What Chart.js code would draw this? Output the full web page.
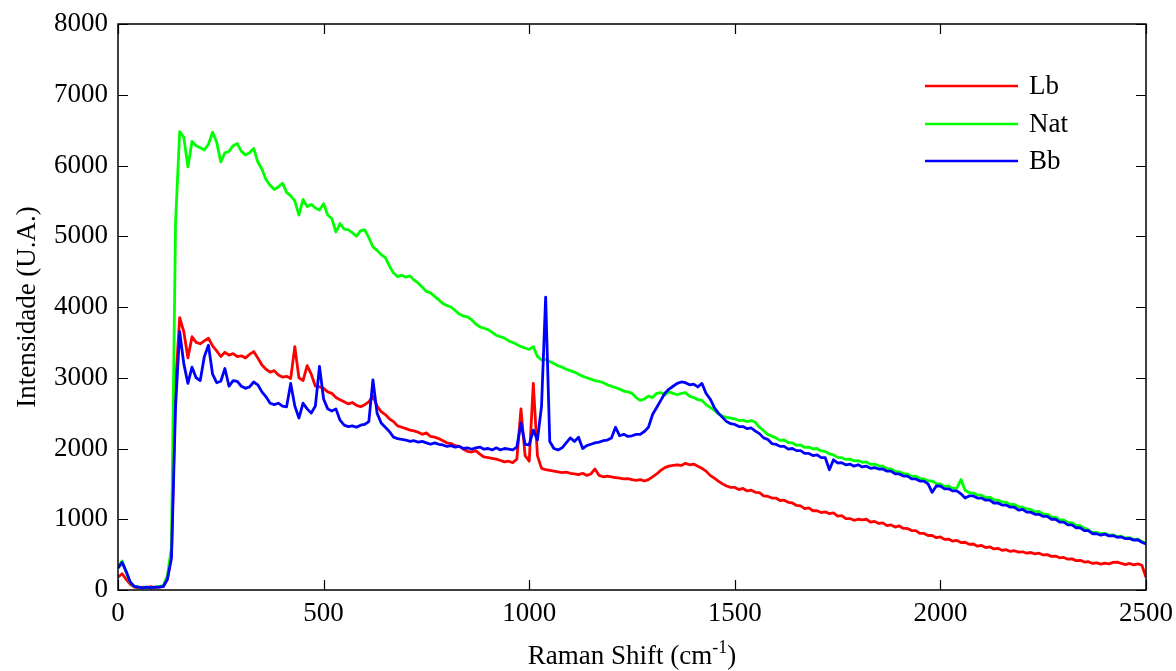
<!DOCTYPE html>
<html>
<head>
<meta charset="utf-8">
<script src="https://cdn.jsdelivr.net/npm/chart.js@4.4.1/dist/chart.umd.min.js"></script>
<style>
html,body{margin:0;padding:0;background:#fff;}
#wrap{width:1176px;height:671px;position:relative;}
</style>
</head>
<body>
<div id="wrap"><canvas id="c" width="1176" height="671"></canvas></div>
<script>
// Raman shift axis: sampled every 10 cm-1 from 0 to 2500
const ramanShift = Array.from({length: 251}, (_, i) => i * 10);

const seriesNames = ['Lb', 'Nat', 'Bb'];

const lbValues = [
180,230,150,80,40,30,40,30,50,30,40,50,150,500,2900,3850,3650,3280,3580,3500,
3480,3520,3560,3450,3380,3300,3360,3320,3340,3300,3310,3280,3330,3370,3280,3180,3120,3080,3100,3040,
3010,3020,2990,3440,3000,2960,3170,3050,2880,2870,2850,2800,2780,2720,2690,2660,2630,2650,2610,2590,
2620,2660,2740,2600,2520,2480,2420,2380,2320,2300,2280,2260,2250,2230,2200,2220,2170,2160,2140,2110,
2080,2070,2040,2030,1990,1960,1950,1970,1920,1880,1870,1860,1850,1830,1810,1820,1800,1850,2560,1900,
1820,2920,1900,1720,1700,1690,1680,1670,1660,1665,1650,1640,1630,1650,1620,1640,1710,1620,1600,1610,
1600,1590,1580,1570,1575,1560,1550,1560,1540,1560,1600,1640,1690,1730,1750,1760,1770,1760,1790,1770,
1780,1750,1720,1680,1620,1580,1540,1500,1470,1450,1450,1420,1435,1400,1410,1380,1375,1330,1325,1300,
1300,1265,1270,1240,1230,1195,1190,1150,1160,1120,1120,1095,1105,1080,1090,1045,1050,1010,1010,985,
1000,990,1000,960,970,940,950,910,920,890,905,870,870,840,840,800,800,770,770,740,
750,715,720,690,700,670,675,645,650,620,630,600,610,580,590,560,570,545,555,535,
540,520,530,510,520,495,500,475,480,455,460,435,440,415,420,395,400,375,385,365,
380,370,390,395,375,360,375,355,370,350,180
];

const natValues = [
330,410,250,100,50,40,30,40,30,40,50,60,200,600,5200,6480,6400,5980,6340,6280,
6250,6220,6300,6470,6330,6050,6180,6200,6280,6310,6200,6150,6180,6240,6050,5950,5800,5720,5660,5700,
5750,5620,5570,5500,5300,5520,5420,5450,5400,5370,5460,5300,5250,5060,5180,5100,5090,5050,5000,5080,
5090,4980,4850,4800,4740,4700,4580,4480,4430,4450,4420,4440,4380,4340,4280,4220,4200,4150,4100,4050,
4020,4000,3950,3900,3870,3860,3820,3760,3720,3700,3680,3640,3600,3580,3560,3520,3500,3470,3440,3420,
3400,3440,3300,3250,3260,3230,3200,3170,3150,3120,3100,3080,3050,3020,3000,2980,2960,2950,2930,2900,
2880,2860,2840,2810,2800,2780,2720,2680,2700,2740,2720,2780,2790,2760,2800,2780,2760,2780,2790,2740,
2720,2690,2680,2620,2580,2540,2490,2460,2440,2430,2420,2395,2400,2380,2395,2370,2300,2250,2200,2175,
2150,2115,2120,2085,2080,2045,2050,2015,2020,1995,2000,1965,1960,1925,1910,1875,1870,1845,1850,1825,
1830,1805,1810,1775,1780,1755,1750,1715,1710,1675,1670,1645,1640,1605,1610,1575,1570,1545,1540,1505,
1500,1465,1470,1435,1440,1560,1410,1375,1370,1345,1340,1305,1310,1275,1270,1245,1240,1205,1210,1175,
1170,1145,1140,1105,1110,1075,1070,1035,1030,995,990,955,950,915,910,875,850,815,815,795,
800,775,780,755,760,735,740,715,720,685,660
];

const bbValues = [
310,390,260,110,50,40,30,40,30,40,40,50,150,450,2600,3650,3200,2920,3150,3000,
2960,3300,3460,3050,2930,2950,3130,2880,2960,2950,2880,2850,2870,2940,2900,2800,2730,2640,2620,2640,
2600,2590,2920,2600,2430,2640,2560,2500,2600,3160,2700,2560,2530,2560,2400,2330,2310,2320,2300,2330,
2340,2380,2970,2500,2360,2300,2240,2160,2140,2130,2120,2100,2110,2090,2100,2080,2060,2080,2060,2050,
2030,2040,2020,2030,2000,2010,1990,2010,2020,1990,2000,1980,2010,1980,2000,1990,1980,2020,2360,2060,
2050,2260,2120,2600,4140,2100,2000,1980,2010,2080,2150,2100,2160,2000,2040,2060,2080,2090,2110,2120,
2150,2300,2180,2200,2170,2180,2200,2200,2240,2300,2480,2580,2680,2780,2840,2880,2920,2940,2930,2900,
2910,2870,2920,2780,2700,2580,2500,2440,2380,2350,2340,2310,2310,2280,2290,2245,2210,2150,2130,2070,
2060,2030,2030,1990,2000,1970,1970,1930,1930,1900,1910,1870,1870,1700,1840,1795,1800,1770,1780,1750,
1770,1740,1750,1720,1730,1710,1710,1680,1680,1640,1640,1610,1610,1570,1570,1540,1540,1500,1380,1470,
1470,1430,1430,1400,1400,1360,1300,1330,1330,1300,1300,1270,1270,1230,1230,1200,1200,1170,1170,1130,
1140,1100,1100,1070,1070,1040,1040,1000,1000,960,960,920,920,880,880,840,840,795,795,775,
790,765,770,745,750,725,730,705,710,675,650
];

const xTicks = [0, 500, 1000, 1500, 2000, 2500];
const yTicks = [0, 1000, 2000, 3000, 4000, 5000, 6000, 7000, 8000];

const colors = ['#ff0000', '#00ff00', '#0000ff'];
const FONT = 'Liberation Serif';

function toPoints(vals) {
  return vals.map((v, i) => ({x: ramanShift[i], y: v}));
}

const framePlugin = {
  id: 'frame',
  afterDraw(chart) {
    const ctx = chart.ctx;
    const a = chart.chartArea;
    const xs = chart.scales.x, ys = chart.scales.y;
    ctx.save();
    ctx.strokeStyle = '#000';
    ctx.lineWidth = 1.5;
    ctx.strokeRect(a.left, a.top, a.right - a.left, a.bottom - a.top);
    ctx.lineWidth = 1.2;
    const tl = 10;
    ctx.beginPath();
    xTicks.forEach(v => {
      const px = Math.round(xs.getPixelForValue(v)) + 0.5;
      ctx.moveTo(px, a.bottom); ctx.lineTo(px, a.bottom - tl);
      ctx.moveTo(px, a.top); ctx.lineTo(px, a.top + tl);
    });
    yTicks.forEach(v => {
      const py = Math.round(ys.getPixelForValue(v)) + 0.5;
      ctx.moveTo(a.left, py); ctx.lineTo(a.left + tl, py);
      ctx.moveTo(a.right, py); ctx.lineTo(a.right - tl, py);
    });
    ctx.stroke();

    // legend
    ctx.font = '27px "' + FONT + '"';
    ctx.textBaseline = 'middle';
    ctx.textAlign = 'left';
    const legY = [86, 124, 161];
    chart.data.datasets.forEach((ds, i) => {
      ctx.strokeStyle = ds.borderColor;
      ctx.lineWidth = 2.7;
      ctx.beginPath();
      ctx.moveTo(925, legY[i]); ctx.lineTo(1018, legY[i]);
      ctx.stroke();
      ctx.fillStyle = '#000';
      ctx.fillText(ds.label, 1029, legY[i] + 1);
    });

    // y title
    ctx.fillStyle = '#000';
    ctx.save();
    ctx.translate(28, (a.top + a.bottom) / 2);
    ctx.rotate(-Math.PI / 2);
    ctx.textAlign = 'center';
    ctx.textBaseline = 'middle';
    ctx.font = '27px "' + FONT + '"';
    ctx.fillText('Intensidade (U.A.)', 0, 0);
    ctx.restore();

    // x title with superscript
    const base = 'Raman Shift (cm';
    const sup = '-1';
    const end = ')';
    ctx.font = '27px "' + FONT + '"';
    const wBase = ctx.measureText(base).width;
    const wEnd = ctx.measureText(end).width;
    ctx.font = '18px "' + FONT + '"';
    const wSup = ctx.measureText(sup).width;
    const total = wBase + wSup + wEnd;
    let x0 = (a.left + a.right) / 2 - total / 2;
    const yb = 664;
    ctx.textAlign = 'left';
    ctx.textBaseline = 'alphabetic';
    ctx.font = '27px "' + FONT + '"';
    ctx.fillText(base, x0, yb);
    ctx.font = '18px "' + FONT + '"';
    ctx.fillText(sup, x0 + wBase, yb - 11);
    ctx.font = '27px "' + FONT + '"';
    ctx.fillText(end, x0 + wBase + wSup, yb);
    ctx.restore();
  }
};

new Chart(document.getElementById('c'), {
  type: 'line',
  data: {
    datasets: [
      {label: seriesNames[0], data: toPoints(lbValues), borderColor: colors[0], order: 3},
      {label: seriesNames[1], data: toPoints(natValues), borderColor: colors[1], order: 2},
      {label: seriesNames[2], data: toPoints(bbValues), borderColor: colors[2], order: 1}
    ]
  },
  options: {
    responsive: false,
    animation: false,
    devicePixelRatio: 1,
    layout: {padding: {left: 0, top: 24, right: 30, bottom: 0}},
    elements: {
      line: {borderWidth: 2.8, tension: 0, borderJoinStyle: 'round'},
      point: {radius: 0, hoverRadius: 0}
    },
    plugins: {legend: {display: false}, tooltip: {enabled: false}},
    scales: {
      x: {
        type: 'linear', min: 0, max: 2500,
        afterBuildTicks: s => { s.ticks = xTicks.map(v => ({value: v})); },
        afterFit: s => { s.height = 81; s.paddingLeft = 0; s.paddingRight = 0; },
        grid: {display: true, drawOnChartArea: false, drawTicks: false, color: 'rgba(0,0,0,0)'},
        border: {display: false},
        ticks: {padding: 8, color: '#000', font: {family: FONT, size: 27}, maxRotation: 0, autoSkip: false,
                callback: v => String(v)}
      },
      y: {
        type: 'linear', min: 0, max: 8000,
        afterBuildTicks: s => { s.ticks = yTicks.map(v => ({value: v})); },
        afterFit: s => { s.width = 118; s.paddingTop = 0; s.paddingBottom = 0; },
        grid: {display: true, drawOnChartArea: false, drawTicks: false, color: 'rgba(0,0,0,0)'},
        border: {display: false},
        ticks: {padding: 10, color: '#000', font: {family: FONT, size: 27}, autoSkip: false,
                callback: v => String(v)}
      }
    }
  },
  plugins: [framePlugin]
});
</script>
</body>
</html>
